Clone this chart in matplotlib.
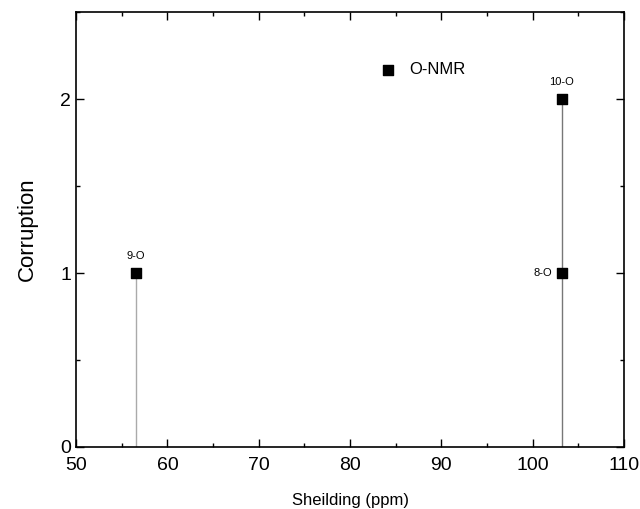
import matplotlib
matplotlib.use('Agg')
import matplotlib.pyplot as plt
from matplotlib.ticker import MultipleLocator

plt.rcParams['font.family'] = ['Liberation Sans', 'DejaVu Sans']

# data
shielding = [56.5, 103.2, 103.2]
corruption = [1, 1, 2]
labels = ['9-O', '8-O', '10-O']

fig = plt.figure(figsize=(6.4, 5.09), dpi=100)
ax = fig.add_axes([0.119, 0.122, 0.856, 0.854])

# drop lines to baseline
ax.vlines(shielding[0], 0, corruption[0], color='#aaaaaa', lw=1)
ax.vlines(shielding[2], 0, corruption[2], color='#777777', lw=1)

ax.scatter(shielding, corruption, marker='s', s=55, color='black', zorder=3)

# point labels
ax.annotate(labels[0], (shielding[0], corruption[0]), xytext=(0, 9),
            textcoords='offset points', ha='center', va='bottom', fontsize=8)
ax.annotate(labels[1], (shielding[1], corruption[1]), xytext=(-7, 0),
            textcoords='offset points', ha='right', va='center', fontsize=8)
ax.annotate(labels[2], (shielding[2], corruption[2]), xytext=(0, 9),
            textcoords='offset points', ha='center', va='bottom', fontsize=8)

# legend-like entry
ax.scatter([84.2], [2.17], marker='s', s=55, color='black')
ax.text(86.5, 2.17, 'O-NMR', fontsize=12, va='center', ha='left')

ax.set_xlim(50, 110)
ax.set_ylim(0, 2.5)
ax.xaxis.set_major_locator(MultipleLocator(10))
ax.xaxis.set_minor_locator(MultipleLocator(5))
ax.yaxis.set_major_locator(MultipleLocator(1))
ax.yaxis.set_minor_locator(MultipleLocator(0.5))
ax.tick_params(which='both', direction='in', top=True, right=True,
               labeltop=False, labelright=False, width=1)
ax.tick_params(which='major', length=6, labelsize=14)
ax.tick_params(axis='x', which='major', pad=7)
ax.tick_params(which='minor', length=3)
for s in ax.spines.values():
    s.set_linewidth(1.2)

ax.set_xlabel('Sheilding (ppm)', fontsize=12, labelpad=14)
ax.set_ylabel('Corruption', fontsize=16, labelpad=16)

fig.savefig('out.png', dpi=100)
